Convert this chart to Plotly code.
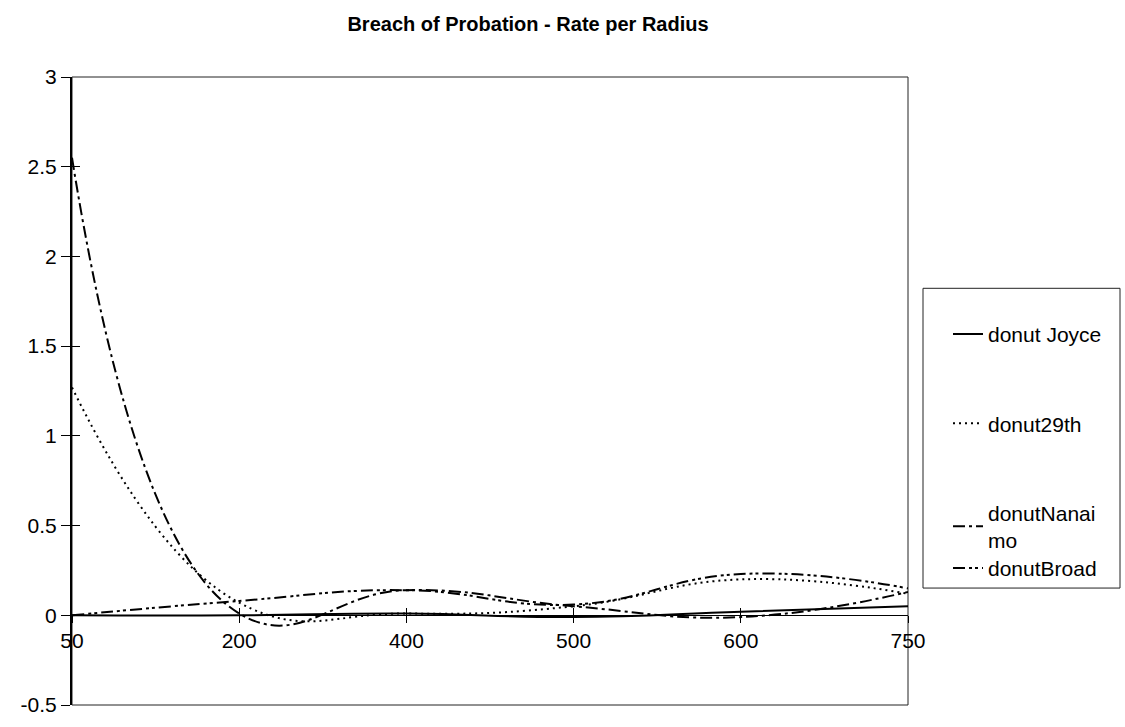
import plotly.graph_objects as go

# ---- data ----
categories = ["50", "200", "400", "500", "600", "750"]
donut_joyce = [0.0, 0.0, 0.01, -0.01, 0.02, 0.05]
donut_29th = [1.27, 0.07, 0.01, 0.05, 0.20, 0.12]
donut_nanaimo = [2.55, 0.01, 0.14, 0.05, -0.01, 0.13]
donut_broad = [0.0, 0.08, 0.14, 0.06, 0.23, 0.15]

y_ticks = [-0.5, 0, 0.5, 1, 1.5, 2, 2.5, 3]
y_range = [-0.5, 3]

FONT = "Liberation Sans, Arial, sans-serif"
W, H = 1125, 727
L, R, T, B = 72, 908, 77, 716

fig = go.Figure()

series = [
    ("donut Joyce", donut_joyce, "solid", "legend"),
    ("donut29th", donut_29th, "2px,4px", "legend"),
    ("donutNanai<br>mo", donut_nanaimo, "12px,4px,3px,4px", "legend"),
    ("donutBroad", donut_broad, "12px,4px,3px,3px,3px,4px", "legend2"),
]
for i, (name, vals, dash, lg) in enumerate(series):
    fig.add_trace(go.Scatter(
        x=categories, y=vals, name=name, mode="lines",
        line=dict(color="black", width=2, dash=dash, shape="spline", smoothing=1.3),
        legend=lg, legendgroup=str(i),
    ))

zero_pos = (0 - y_range[0]) / (y_range[1] - y_range[0])

fig.update_layout(
    width=W, height=H,
    margin=dict(l=L, r=W - R, t=T, b=H - B, pad=0),
    paper_bgcolor="white", plot_bgcolor="white",
    font=dict(family=FONT, size=21, color="black"),
    title=dict(text="<b>Breach of Probation - Rate per Radius</b>",
               x=528 / W, xanchor="center", y=1 - 24 / H, yanchor="middle",
               font=dict(family=FONT, size=20, color="black")),
    xaxis=dict(type="category", range=[0, 5], anchor="free", position=zero_pos,
               showgrid=False, zeroline=False, showline=True, linecolor="black", linewidth=1,
               ticks="outside", ticklen=7, tickwidth=1, tickcolor="black",
               tickfont=dict(family=FONT, size=21, color="black")),
    xaxis2=dict(overlaying="x", range=[0, 5], dtick=1, tick0=0, anchor="free", position=zero_pos,
                showgrid=False, zeroline=False, showline=False, showticklabels=False,
                ticks="inside", ticklen=7, tickwidth=1, tickcolor="black"),
    yaxis=dict(range=y_range, tickvals=y_ticks, ticktext=[str(v) for v in y_ticks],
               showgrid=False, zeroline=False, showline=True, linecolor="black", linewidth=2,
               ticks="outside", ticklen=9, tickwidth=1, tickcolor="black",
               ticklabeloverflow="allow",
               tickfont=dict(family=FONT, size=21, color="black")),
    yaxis2=dict(overlaying="y", range=y_range, tickvals=y_ticks, showgrid=False, zeroline=False,
                showline=False, showticklabels=False, ticks="inside", ticklen=8,
                tickwidth=1, tickcolor="black"),
    legend=dict(x=(948 - L) / (R - L), xanchor="left", y=(B - 318) / (B - T), yanchor="top",
                bgcolor="rgba(0,0,0,0)", borderwidth=0, tracegroupgap=59,
                font=dict(family=FONT, size=21, color="black"), itemwidth=30),
    legend2=dict(x=(948 - L) / (R - L), xanchor="left", y=(B - 556) / (B - T), yanchor="top",
                 bgcolor="rgba(0,0,0,0)", borderwidth=0,
                 font=dict(family=FONT, size=21, color="black"), itemwidth=30),
    shapes=[
        dict(type="rect", xref="paper", yref="paper", x0=0, x1=1, y0=0, y1=1,
             line=dict(color="#222", width=1), layer="below"),
        dict(type="rect", xref="paper", yref="paper",
             x0=(923 - L) / (R - L), x1=(1120 - L) / (R - L),
             y0=(B - 597) / (B - T), y1=(B - 292) / (B - T),
             line=dict(color="#222", width=1)),
    ],
    showlegend=True,
)
# invisible helper trace so the overlay axes (crossing tick marks) are drawn
fig.add_trace(go.Scatter(x=[0], y=[0], xaxis="x2", yaxis="y2", mode="markers",
                         marker=dict(opacity=0), showlegend=False, hoverinfo="skip"))

fig.write_html("out.html")
